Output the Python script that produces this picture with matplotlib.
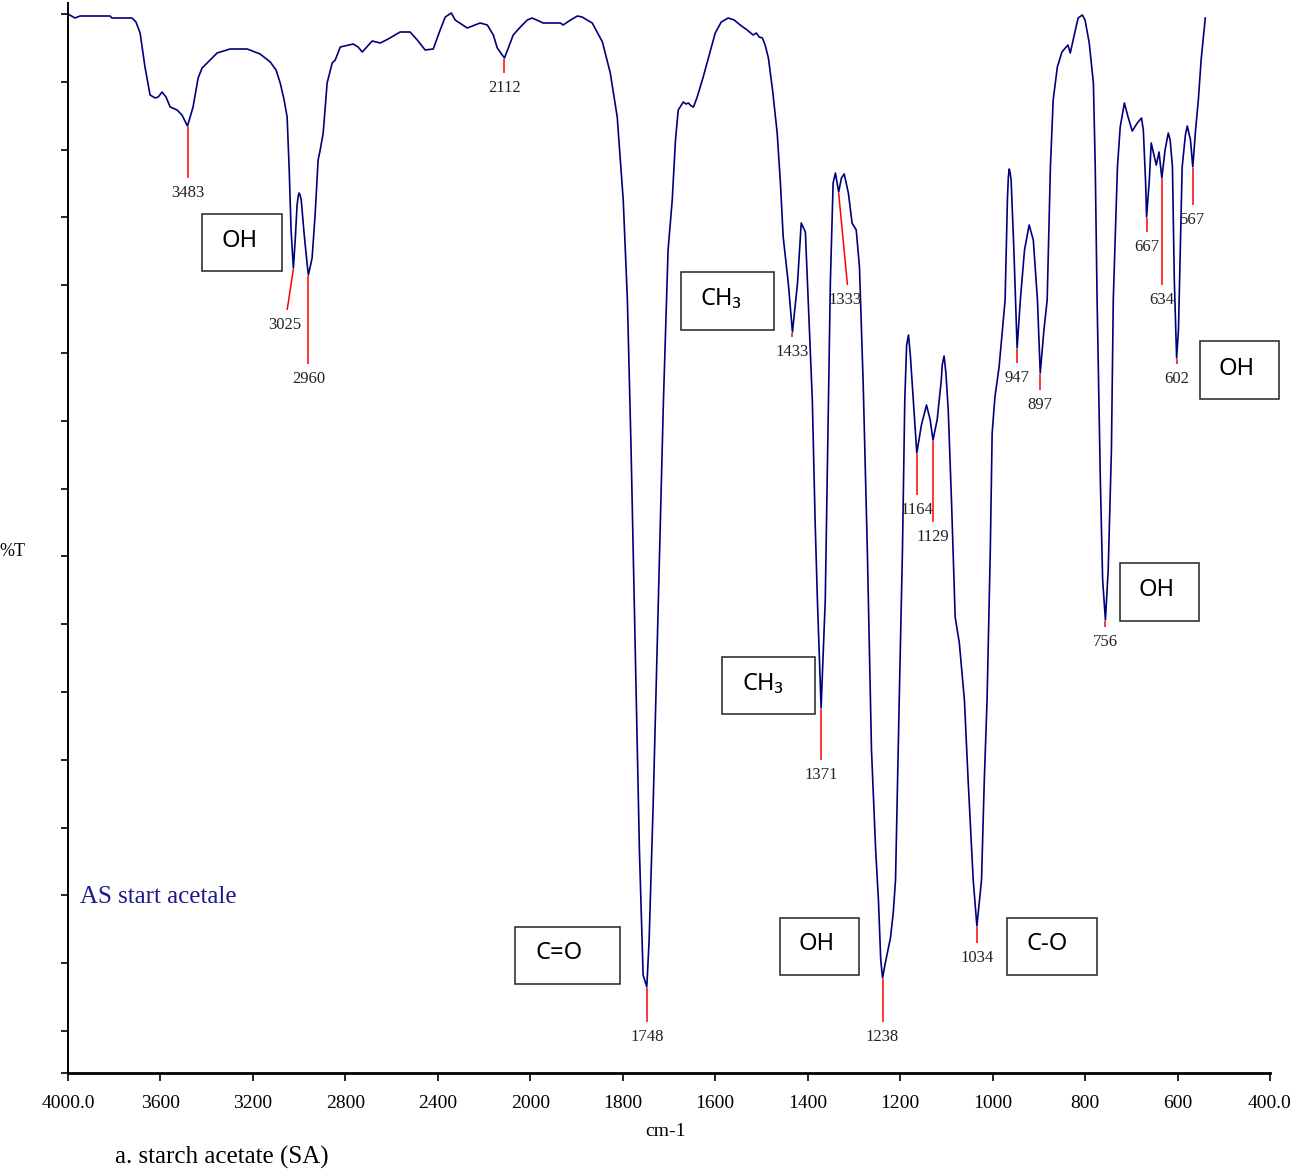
import numpy as np
import matplotlib
matplotlib.use('Agg')
import matplotlib.pyplot as plt
from matplotlib.patches import Rectangle

# FTIR spectrum of starch acetate (wavenumber cm-1, %T)
wn = [4000, 3970, 3948, 3818, 3810, 3723, 3706, 3688, 3667, 3645,
      3623, 3610, 3593, 3576, 3558, 3528, 3507, 3483, 3459, 3437,
      3420, 3398, 3355, 3299, 3225, 3169, 3125, 3100, 3082, 3065,
      3052, 3043, 3035, 3025, 3017, 3009, 3004, 3000, 2996, 2991, 2978, 2965,
      2960, 2944, 2931, 2918, 2909, 2896, 2879, 2857, 2844, 2822,
      2766, 2745, 2727, 2684, 2649, 2615, 2563, 2520, 2489, 2455,
      2420, 2390, 2368, 2355, 2342, 2325, 2273, 2217, 2186, 2160,
      2143, 2112, 2095, 2074, 2043, 2013, 1996, 1972, 1935, 1929,
      1913, 1898, 1888, 1866, 1844, 1827, 1812, 1799, 1790, 1782,
      1773, 1764, 1756, 1748, 1743, 1734, 1723, 1712, 1702, 1693,
      1686, 1680, 1669, 1663, 1658, 1652, 1647, 1639, 1626, 1613,
      1600, 1587, 1572, 1559, 1546, 1531, 1518, 1511, 1505, 1498,
      1492, 1485, 1476, 1466, 1459, 1453, 1442, 1433, 1422, 1414,
      1405, 1399, 1390, 1384, 1379, 1371, 1362, 1355, 1351, 1345,
      1340, 1333, 1327, 1321, 1312, 1304, 1295, 1288, 1280, 1271,
      1262, 1253, 1247, 1242, 1238, 1233, 1221, 1215, 1210, 1202,
      1195, 1190, 1186, 1182, 1178, 1174, 1164, 1154, 1143, 1135, 1129, 1120,
      1111, 1109, 1105, 1101, 1096, 1089, 1081, 1072, 1061, 1053, 1042, 1036,
      1034, 1024, 1018, 1012, 1005, 1001, 995, 986, 973, 968,
      966, 964, 962, 960, 954, 947, 940, 931, 921, 912, 903, 897,
      889, 882, 875, 869, 860, 850, 841, 837, 832, 821,
      815, 806, 800, 791, 782, 778, 774, 767, 762, 756,
      750, 743, 739, 730, 724, 715, 707, 698, 687, 678,
      674, 669, 667, 661, 657, 650, 646, 640, 634, 627,
      620, 616, 611, 607, 602, 598, 594, 590, 583, 579,
      572, 567, 561, 555, 549, 540]
trans = [105.9, 105.5, 105.7, 105.7, 105.5, 105.5, 105.1, 104.0, 100.6, 97.8,
         97.5, 97.6, 98.1, 97.6, 96.6, 96.3, 95.8, 94.7, 96.6, 99.5,
         100.5, 101.0, 102.0, 102.4, 102.4, 101.9, 101.1, 100.3, 99.0, 97.3,
         95.6, 90.3, 84.3, 80.5, 83.3, 86.8, 87.7, 88.0, 87.8, 87.3, 83.8, 80.8,
         79.8, 81.5, 85.8, 91.3, 92.3, 94.0, 99.0, 101.0, 101.3, 102.6,
         102.9, 102.6, 102.1, 103.2, 103.0, 103.4, 104.1, 104.1, 103.3, 102.3,
         102.4, 104.3, 105.6, 105.8, 106.0, 105.3, 104.5, 105.0, 104.8, 103.8,
         102.5, 101.5, 102.5, 103.8, 104.6, 105.3, 105.5, 105.0, 105.0, 104.8,
         105.3, 105.7, 105.6, 105.0, 103.1, 100.0, 95.6, 87.3, 77.3, 62.3,
         42.3, 22.3, 9.8, 8.6, 13.3, 27.3, 47.3, 67.3, 82.3, 87.3,
         93.3, 96.3, 97.1, 96.9, 97.0, 96.7, 96.6, 97.6, 99.6, 101.8,
         104.0, 105.1, 105.5, 105.3, 104.8, 104.3, 103.8, 104.0, 103.6, 103.5,
         102.8, 101.5, 98.3, 94.0, 89.0, 83.6, 79.0, 74.1, 79.0, 85.0,
         84.1, 77.3, 67.3, 55.3, 47.3, 36.5, 47.3, 67.3, 79.0, 89.0,
         90.0, 88.1, 89.5, 89.9, 88.0, 85.0, 84.3, 80.6, 69.0, 52.3,
         32.3, 22.3, 17.3, 11.3, 9.5, 10.8, 13.5, 16.0, 19.3, 37.3,
         52.3, 67.3, 72.8, 73.8, 71.8, 69.0, 62.0, 64.8, 66.8, 65.3, 63.3, 65.3,
         69.3, 70.8, 71.7, 70.0, 66.3, 57.3, 45.6, 43.0, 37.3, 29.3, 19.3, 15.8,
         14.7, 19.3, 29.3, 37.3, 52.3, 64.0, 67.6, 70.6, 77.3, 87.3,
         89.6, 90.4, 90.0, 89.3, 82.3, 72.5, 77.3, 82.3, 84.8, 83.3, 77.3, 70.0,
         74.3, 77.3, 90.6, 97.3, 100.6, 102.1, 102.6, 102.8, 102.0, 104.3,
         105.5, 105.8, 105.3, 103.0, 99.0, 90.6, 77.3, 59.3, 49.3, 45.3,
         50.3, 62.3, 77.3, 90.6, 94.6, 97.0, 95.6, 94.2, 95.0, 95.5,
         94.3, 89.0, 85.6, 89.3, 93.0, 91.6, 90.8, 92.1, 89.5, 92.3,
         94.0, 93.3, 90.6, 79.3, 71.5, 74.3, 82.3, 90.6, 93.8, 94.7,
         93.3, 90.6, 94.3, 97.3, 101.3, 105.5]

# labelled band positions
peaks = [3483, 3025, 2960, 2112, 1748, 1433, 1371, 1333, 1238, 1164,
         1129, 1034, 947, 897, 756, 667, 634, 602, 567]
# how far the red marker drops below each band (in %T)
drops = [5.2, 4.2, 8.9, 1.5, 3.5, 0.5, 5.2, 9.3, 4.4, 4.2,
         8.2, 1.7, 1.5, 1.7, 0.7, 1.5, 10.7, 0.6, 3.8]
# slanted markers end away from the band
line_end = {3025: 3052, 1333: 1314}
text_at = {3025: 3061, 1333: 1319}

groups = ['OH', 'CH\u2083', 'OH', 'OH', 'CH\u2083', 'C=O', 'OH', 'C-O']
# box (left, top, right, bottom) and text centre, in figure pixels
group_boxes = [(202, 214, 282, 271, 240, 241),
               (681, 272, 774, 330, 721, 299),
               (1200, 341, 1279, 399, 1237, 369),
               (1120, 563, 1199, 621, 1157, 590),
               (722, 657, 815, 714, 763, 684),
               (515, 927, 620, 984, 559, 953),
               (780, 918, 859, 975, 817, 944),
               (1007, 918, 1097, 975, 1047, 944)]

xticks = [4000, 3600, 3200, 2800, 2400, 2000, 1800, 1600, 1400, 1200, 1000, 800, 600, 400]
xticklabels = ['4000.0', '3600', '3200', '2800', '2400', '2000', '1800', '1600',
               '1400', '1200', '1000', '800', '600', '400.0']

W, H = 1292, 1173
SERIF = 'Liberation Serif'
NAVY = '#00007a'

# spectrometer axis: above 2000 cm-1 the scale is compressed by half
def fwd(w):
    w = np.asarray(w, dtype=float)
    return np.where(w > 2000, 2000 + (w - 2000) / 2.0, w)

def inv(u):
    u = np.asarray(u, dtype=float)
    return np.where(u > 2000, 2000 + (u - 2000) * 2.0, u)

fig = plt.figure(figsize=(W / 100, H / 100), dpi=100)
ax = fig.add_axes([68 / W, 1 - 1073 / H, 1202 / W, 1070 / H])
ax.set_xscale('function', functions=(fwd, inv))

ax.plot(wn, trans, color=NAVY, lw=1.2, solid_joinstyle='round')
ax.set_xlim(4000, 400)
ax.set_ylim(0, 107)

wn_r = np.array(wn[::-1], dtype=float)
tr_r = np.array(trans[::-1], dtype=float)
for p, d in zip(peaks, drops):
    t = np.interp(p, wn_r, tr_r)
    xe = line_end.get(p, p)
    ax.plot([p, xe], [t - 0.1, t - d], color='red', lw=1.1, solid_capstyle='butt')
    ax.text(text_at.get(p, p), t - d - 1.5, str(p), ha='center', va='center',
            fontsize=12, family=SERIF, color='#222222')

ax.set_xticks(xticks)
ax.set_xticklabels(xticklabels, family=SERIF, fontsize=14)
ax.set_yticks(list(np.linspace(4.2, 105.9, 16)) + [0])
ax.set_yticklabels([])
ax.xaxis.set_minor_locator(plt.NullLocator())
ax.yaxis.set_minor_locator(plt.NullLocator())
ax.tick_params(axis='x', direction='out', length=6, width=1.2, pad=10)
ax.tick_params(axis='y', direction='out', length=5, width=1.2)
for side in ['top', 'right']:
    ax.spines[side].set_visible(False)
ax.spines['bottom'].set_linewidth(2.0)
ax.spines['left'].set_linewidth(1.4)

for g, (x0, y0, x1, y1, tx, ty) in zip(groups, group_boxes):
    fig.add_artist(Rectangle((x0 / W, 1 - y1 / H), (x1 - x0) / W, (y1 - y0) / H,
                             transform=fig.transFigure, fill=False,
                             ec='#222222', lw=1.1))
    fig.text(tx / W, 1 - ty / H, g, ha='center', va='center', fontsize=17,
             family=['Noto Sans', 'DejaVu Sans'], color='black')

fig.text(80 / W, 1 - 897 / H, 'AS start acetale', ha='left', va='center',
         fontsize=18, family=SERIF, color='#1a1a8e')
fig.text(12 / W, 1 - 551 / H, '%T', ha='center', va='center', fontsize=13, family=SERIF)
fig.text(666 / W, 1 - 1131 / H, 'cm-1', ha='center', va='center', fontsize=14, family=SERIF)
fig.text(115 / W, 1 - 1157 / H, 'a. starch acetate (SA)', ha='left', va='center',
         fontsize=18, family=SERIF)

fig.savefig('out.png', dpi=100)
